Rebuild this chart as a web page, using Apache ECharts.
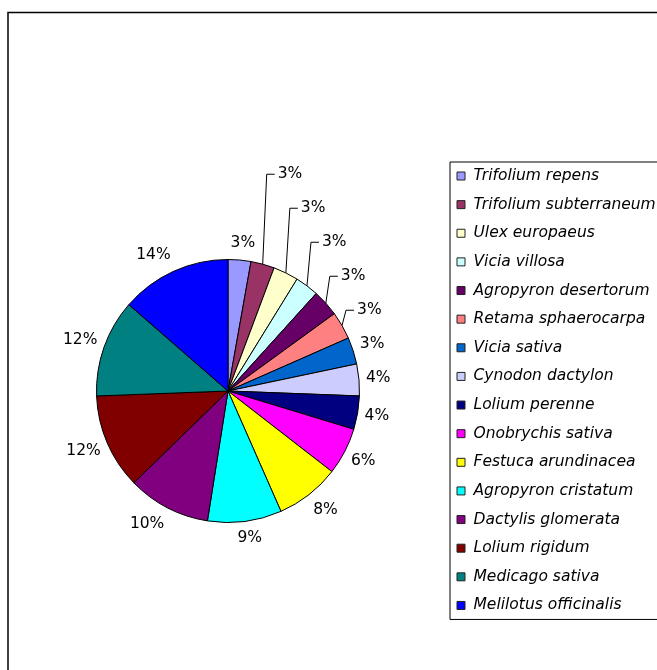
<!DOCTYPE html>
<html><head><meta charset="utf-8">
<script src="https://cdn.jsdelivr.net/npm/echarts@6/dist/echarts.min.js"></script>
<style>html,body{margin:0;padding:0;background:#fff}#c{width:657px;height:670px}</style>
</head><body><div id="c"></div>
<script>
const categories = ['Trifolium repens','Trifolium subterraneum','Ulex europaeus','Vicia villosa','Agropyron desertorum','Retama sphaerocarpa','Vicia sativa','Cynodon dactylon','Lolium perenne','Onobrychis sativa','Festuca arundinacea','Agropyron cristatum','Dactylis glomerata','Lolium rigidum','Medicago sativa','Melilotus officinalis'];
const values = [2.8, 2.9, 3.1, 2.9, 3.3, 3.4, 3.3, 3.9, 4.1, 5.8, 7.9, 9.1, 10.2, 11.7, 12.0, 13.6];
const colors = ['#9999FF','#993366','#FFFFCC','#CCFFFF','#660066','#FF8080','#0066CC','#CCCCFF','#000080','#FF00FF','#FFFF00','#00FFFF','#800080','#800000','#008080','#0000FF'];
const leaderItems = [1, 2, 3, 4, 5];

const CX = 228, CY = 391, R = 131.5;
const FONT = 'DejaVu Sans';

const total = values.reduce((a, b) => a + b, 0);
const geo = [];
let cum = 0;
values.forEach((v) => {
  const mid = (cum + v / 2) / total * 2 * Math.PI; cum += v;
  const dx = Math.sin(mid), dy = -Math.cos(mid);
  geo.push({dx, dy, ex: CX + R * dx, ey: CY + R * dy});
});
const clamp = (t) => Math.max(-1, Math.min(1, t));
function plainPos(i, w) {
  const g = geo[i];
  return {
    x: g.ex + g.dx * 7 + (w / 2) * clamp(g.dx / 0.4),
    y: g.ey + g.dy * 7 + 10 * clamp(g.dy / 0.7)
  };
}
const anchorIdx = Math.max(...leaderItems) + 1;

const chart = echarts.init(document.getElementById('c'), null, {renderer: 'canvas'});
chart.setOption({
  animation: false,
  color: colors,
  graphic: [{
    type: 'rect', silent: true, z: -10,
    shape: {x: 8, y: 12.5, width: 800, height: 800},
    style: {fill: 'none', stroke: '#000', lineWidth: 1.5}
  }],
  legend: {
    orient: 'vertical', left: 450, top: 162,
    padding: [5, 40, 5, 6.5],
    itemGap: 10.63, itemWidth: 8, itemHeight: 8, icon: 'rect',
    borderColor: '#000', borderWidth: 1,
    textStyle: {fontFamily: FONT, fontStyle: 'italic', fontSize: 15.5, color: '#000', lineHeight: 18, padding: [0, 0, 0, 3.5]},
    itemStyle: {borderColor: '#222', borderWidth: 1},
    data: categories
  },
  series: [{
    type: 'pie',
    center: [CX, CY], radius: R,
    startAngle: 90, clockwise: true,
    avoidLabelOverlap: false,
    emphasis: {disabled: true},
    itemStyle: {borderColor: '#000', borderWidth: 1},
    label: {
      show: true, position: 'outside', color: '#000',
      fontFamily: FONT, fontSize: 15.5,
      formatter: (p) => Math.round(p.percent) + '%'
    },
    labelLine: {show: false, lineStyle: {color: '#000', width: 1}},
    labelLayout: function (params) {
      const i = params.dataIndex;
      const w = params.labelRect.width;
      if (leaderItems.indexOf(i) >= 0) {
        const base = plainPos(anchorIdx, w);
        const y = base.y - (anchorIdx - i) * 34;
        const g = geo[i];
        const ex = g.ex, ey = g.ey;
        return {
          x: ex + 15, y: y, align: 'left', verticalAlign: 'middle',
          labelLinePoints: [[ex, ey], [ex + 4, y], [ex + 12, y]]
        };
      }
      const p = plainPos(i, w);
      return {x: p.x, y: p.y, align: 'center', verticalAlign: 'middle'};
    },
    data: categories.map((n, i) => ({
      name: n, value: values[i],
      labelLine: leaderItems.indexOf(i) >= 0 ? {show: true} : {show: false}
    }))
  }]
});
</script></body></html>
